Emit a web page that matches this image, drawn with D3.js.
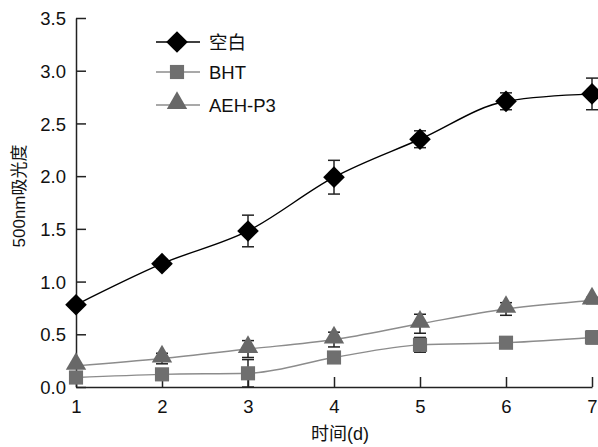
<!DOCTYPE html>
<html>
<head>
<meta charset="utf-8">
<script src="https://cdn.jsdelivr.net/npm/d3@7"></script>
<style>
  body { margin: 0; background: #fff; }
  text { font-family: "Liberation Sans", Arial, sans-serif; }
</style>
</head>
<body>
<div id="chart"></div>
<script>
var svgWidth = 598;
var svgHeight = 447;

var days = [1, 2, 3, 4, 5, 6, 7];
var yTicks = [0.0, 0.5, 1.0, 1.5, 2.0, 2.5, 3.0, 3.5];

var blankValues = [0.78, 1.17, 1.48, 1.99, 2.35, 2.71, 2.78];
var blankErr = [0.0, 0.04, 0.15, 0.16, 0.08, 0.08, 0.15];
var bhtValues = [0.09, 0.12, 0.13, 0.28, 0.40, 0.42, 0.47];
var bhtErr = [0.0, 0.0, 0.13, 0.0, 0.07, 0.0, 0.06];
var aehValues = [0.20, 0.27, 0.36, 0.45, 0.60, 0.74, 0.82];
var aehErr = [0.0, 0.05, 0.08, 0.07, 0.09, 0.06, 0.03];

var seriesNames = ["空白", "BHT", "AEH-P3"];

var margin = { top: 18, right: 6, bottom: 60, left: 76 };
var width = 592 - margin.left;
var height = 387 - margin.top;

var svg = d3.select("#chart").append("svg")
  .attr("width", svgWidth)
  .attr("height", svgHeight);

var chartGroup = svg.append("g")
  .attr("transform", `translate(${margin.left}, ${margin.top})`);

var xScale = d3.scaleLinear().domain([1, 7]).range([0, width]);
var yScale = d3.scaleLinear().domain([0, 3.5]).range([height, 0]);

// axes, ticks pointing inward
var bottomAxis = d3.axisBottom(xScale).tickValues(days).tickFormat(d3.format("d"))
  .tickSizeInner(-10).tickSizeOuter(0).tickPadding(13);
var leftAxis = d3.axisLeft(yScale).tickValues(yTicks).tickFormat(d3.format(".1f"))
  .tickSizeInner(-10).tickSizeOuter(0).tickPadding(10);

var xAxis = chartGroup.append("g")
  .attr("transform", `translate(0, ${height})`)
  .call(bottomAxis);
var yAxis = chartGroup.append("g").call(leftAxis);

[xAxis, yAxis].forEach(function(ax) {
  ax.attr("font-size", null);
  ax.select(".domain").attr("stroke", "#222").attr("stroke-width", 1.5);
  ax.selectAll(".tick line").attr("stroke", "#222").attr("stroke-width", 1.5);
  ax.selectAll(".tick text").attr("font-size", "18.5px").attr("fill", "#111")
    .style("font-family", "'Liberation Sans', Arial, sans-serif");
});
yAxis.selectAll(".tick text").attr("dy", "0.36em");

// square diamond (rotated square), half-diagonal r
var diamond = {
  draw: function(context, size) {
    var r = Math.sqrt(size / 2);
    context.moveTo(0, -r);
    context.lineTo(r, 0);
    context.lineTo(0, r);
    context.lineTo(-r, 0);
    context.closePath();
  }
};

var series = [
  { name: seriesNames[0], values: blankValues, err: blankErr, line: "#000", fill: "#000", shape: diamond, size: 235 },
  { name: seriesNames[1], values: bhtValues, err: bhtErr, line: "#8c8c8c", fill: "#6f6f6f", shape: d3.symbolSquare, size: 200 },
  { name: seriesNames[2], values: aehValues, err: aehErr, line: "#8c8c8c", fill: "#686868", shape: d3.symbolTriangle, size: 180 }
];

var line = d3.line()
  .x(d => xScale(d.x))
  .y(d => yScale(d.y))
  .curve(d3.curveMonotoneX);

series.slice().reverse().forEach(function(s) {
  var pts = days.map((d, i) => ({ x: d, y: s.values[i], e: s.err[i] }));

  chartGroup.append("path")
    .datum(pts)
    .attr("fill", "none")
    .attr("stroke", s.line)
    .attr("stroke-width", 1.4)
    .attr("d", line);

  var errs = chartGroup.append("g").selectAll("g")
    .data(pts.filter(p => p.e > 0))
    .enter().append("g")
    .attr("stroke", "#222")
    .attr("stroke-width", 1.5);
  errs.append("line")
    .attr("x1", d => xScale(d.x)).attr("x2", d => xScale(d.x))
    .attr("y1", d => yScale(d.y - d.e)).attr("y2", d => yScale(d.y + d.e));
  errs.append("line")
    .attr("x1", d => xScale(d.x) - 6).attr("x2", d => xScale(d.x) + 6)
    .attr("y1", d => yScale(d.y + d.e)).attr("y2", d => yScale(d.y + d.e));
  errs.append("line")
    .attr("x1", d => xScale(d.x) - 6).attr("x2", d => xScale(d.x) + 6)
    .attr("y1", d => yScale(d.y - d.e)).attr("y2", d => yScale(d.y - d.e));

  chartGroup.append("g").selectAll("path")
    .data(pts)
    .enter().append("path")
    .attr("d", d3.symbol().type(s.shape).size(s.size))
    .attr("transform", d => {
      var dy = s.shape === d3.symbolTriangle ? -2 : 0;
      return `translate(${xScale(d.x)}, ${yScale(d.y) + dy})`;
    })
    .attr("fill", s.fill);
});

// legend
var legend = svg.append("g");
var legendY = [42, 72, 105];
series.forEach(function(s, i) {
  var g = legend.append("g").attr("transform", `translate(0, ${legendY[i]})`);
  g.append("line").attr("x1", 156).attr("x2", 200).attr("y1", 0).attr("y2", 0)
    .attr("stroke", s.line).attr("stroke-width", 1.4);
  g.append("path").attr("d", d3.symbol().type(s.shape).size(s.size))
    .attr("transform", `translate(177, ${s.shape === d3.symbolTriangle ? -2 : 0})`)
    .attr("fill", s.fill);
  g.append("text").attr("x", 209).attr("y", 0).attr("dy", "0.36em")
    .attr("font-size", "18.5px").attr("fill", "#111")
    .style("font-family", i === 0 ? "'Noto Sans CJK SC', sans-serif" : "'Liberation Sans', Arial, sans-serif")
    .text(s.name);
});

// axis titles
svg.append("text")
  .attr("transform", `translate(25, 196) rotate(-90)`)
  .attr("text-anchor", "middle")
  .attr("font-size", "17px").attr("fill", "#111")
  .style("font-family", "'Liberation Sans', 'Noto Sans CJK SC', sans-serif")
  .text("500nm吸光度");

svg.append("text")
  .attr("x", 340).attr("y", 440)
  .attr("text-anchor", "middle")
  .attr("font-size", "18px").attr("fill", "#111")
  .style("font-family", "'Liberation Sans', 'Noto Sans CJK SC', sans-serif")
  .text("时间(d)");
</script>
</body>
</html>
